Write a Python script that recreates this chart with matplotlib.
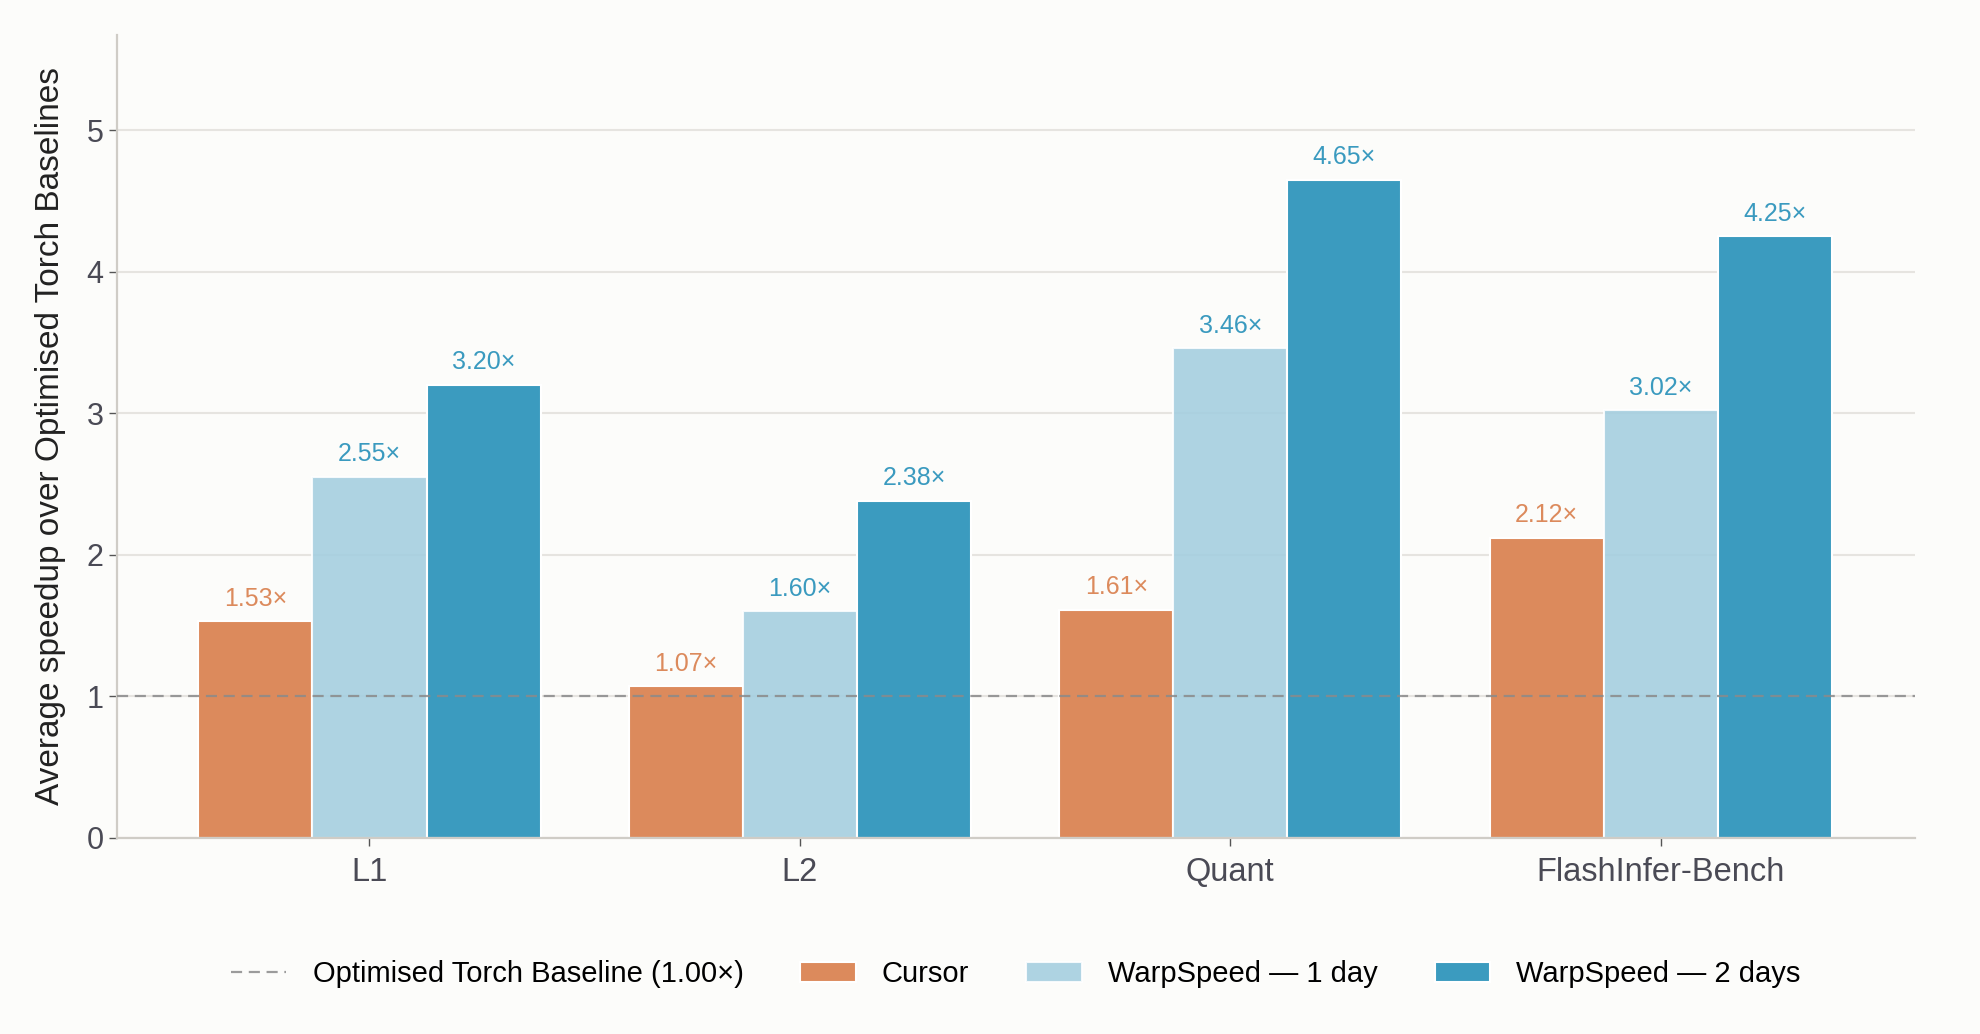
import numpy as np
import matplotlib.pyplot as plt

plt.rcParams["font.family"] = ["Liberation Sans", "DejaVu Sans"]

categories = ["L1", "L2", "Quant", "FlashInfer-Bench"]
cursor = [1.53, 1.07, 1.61, 2.12]
warp_1day = [2.55, 1.60, 3.46, 3.02]
warp_2days = [3.20, 2.38, 4.65, 4.25]

series = [
    ("Cursor", cursor, "#dc8a5c", 1.0, "#dc8a5c"),
    ("WarpSpeed — 1 day", warp_1day, "#a3cedf", 0.88, "#3a9abf"),
    ("WarpSpeed — 2 days", warp_2days, "#3b9bbf", 1.0, "#3a9abf"),
]

bg = "#fcfcfa"
fig, ax = plt.subplots(figsize=(19.8, 10.34), dpi=100, facecolor=bg)
ax.set_facecolor(bg)
fig.subplots_adjust(left=0.059, right=0.967, bottom=0.19, top=0.966)

x = np.arange(len(categories))
width = 0.265

base = ax.axhline(1.0, color="#8a8a8a", linestyle=(0, (5, 3)), linewidth=1.6,
                  alpha=0.85, zorder=3)
handles = [base]
labels = ["Optimised Torch Baseline (1.00×)"]

for i, (name, vals, color, alpha, tcolor) in enumerate(series):
    pos = x + (i - 1) * width
    bars = ax.bar(pos, vals, width, color=color, alpha=alpha, edgecolor="white",
                  linewidth=1.5, zorder=2)
    handles.append(bars)
    labels.append(name)
    for p, v in zip(pos, vals):
        ax.text(p, v + 0.075, f"{v:.2f}×", ha="center", va="bottom",
                fontsize=18, color=tcolor)

ax.set_xticks(x)
ax.set_xticklabels(categories, fontsize=23.5, color="#4a4a55")
ax.set_xlim(-0.587, 3.59)
ax.set_ylim(0, 4.65 * 1.22)
ax.set_yticks([0, 1, 2, 3, 4, 5])
ax.tick_params(axis="y", labelsize=22, labelcolor="#4a4a55", color="#555555",
               length=6, width=1)
ax.tick_params(axis="x", color="#555555", length=6, width=1, pad=8)
ax.set_ylabel("Average speedup over Optimised Torch Baselines", fontsize=24,
              color="#222222", labelpad=15)

ax.grid(axis="y", color="#e6e4e0", linewidth=1.5, zorder=0)
ax.set_axisbelow(True)
for s in ["top", "right"]:
    ax.spines[s].set_visible(False)
for s in ["left", "bottom"]:
    ax.spines[s].set_color("#cfccc6")
    ax.spines[s].set_linewidth(1.6)

ax.legend(handles, labels, loc="upper center", bbox_to_anchor=(0.5, -0.12),
          ncol=4, frameon=False, fontsize=21, handlelength=1.9,
          handletextpad=0.9, columnspacing=1.95)

fig.savefig("out.png", dpi=100, facecolor=bg)
